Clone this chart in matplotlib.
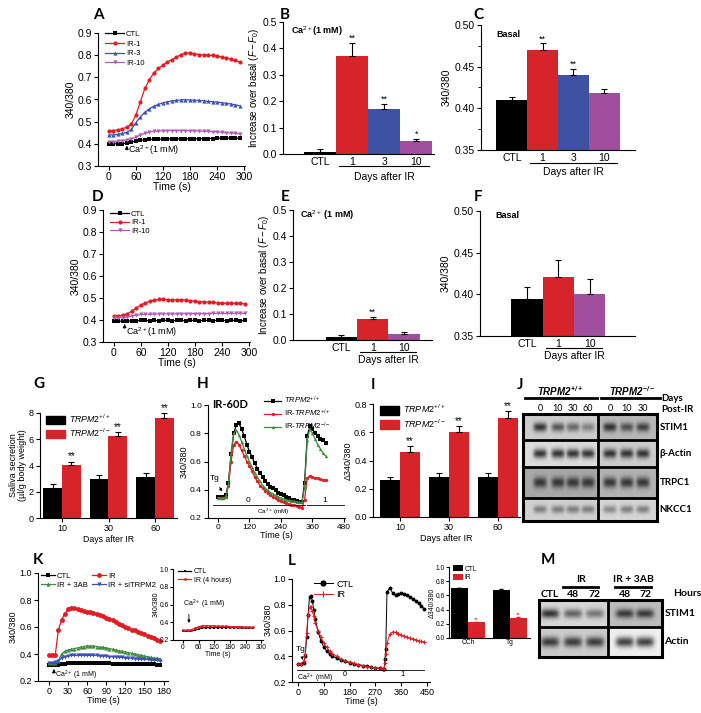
import numpy as np
import matplotlib
matplotlib.use("Agg")
import matplotlib.pyplot as plt
import matplotlib.transforms as mtransforms
from matplotlib.lines import Line2D
from matplotlib.patches import Patch
from matplotlib.ticker import MultipleLocator

plt.rcParams['font.family'] = ['Liberation Sans', 'DejaVu Sans']
plt.rcParams['mathtext.fontset'] = 'custom'
plt.rcParams['mathtext.rm'] = 'Liberation Sans'
plt.rcParams['mathtext.it'] = 'Liberation Sans:italic'
plt.rcParams['mathtext.bf'] = 'Liberation Sans:italic:bold'
plt.rcParams['axes.linewidth'] = 0.8

# ---------------- data ----------------
# A: Ca2+ entry, days after IR
a_time = list(range(0, 300, 10))
a_ctl = [0.400, 0.400, 0.400, 0.400, 0.405, 0.408, 0.412, 0.416, 0.418, 0.420,
         0.420, 0.421, 0.421, 0.422, 0.422, 0.422, 0.422, 0.423, 0.423, 0.423,
         0.423, 0.424, 0.424, 0.424, 0.425, 0.425, 0.425, 0.425, 0.425, 0.425]
a_ir1 = [0.460, 0.460, 0.463, 0.468, 0.475, 0.490, 0.530, 0.590, 0.650, 0.690,
         0.720, 0.740, 0.755, 0.770, 0.780, 0.792, 0.802, 0.810, 0.810, 0.806,
         0.803, 0.801, 0.800, 0.799, 0.796, 0.792, 0.788, 0.782, 0.776, 0.770]
a_ir3 = [0.440, 0.440, 0.443, 0.447, 0.452, 0.465, 0.495, 0.522, 0.543, 0.558,
         0.570, 0.578, 0.585, 0.590, 0.594, 0.596, 0.598, 0.599, 0.598, 0.597,
         0.596, 0.594, 0.592, 0.590, 0.588, 0.586, 0.583, 0.580, 0.576, 0.572]
a_ir10 = [0.410, 0.410, 0.412, 0.414, 0.418, 0.423, 0.430, 0.440, 0.448, 0.453,
          0.456, 0.458, 0.459, 0.460, 0.460, 0.460, 0.460, 0.460, 0.459, 0.459,
          0.458, 0.457, 0.456, 0.455, 0.454, 0.452, 0.450, 0.449, 0.447, 0.445]

# B, C: summary bars
b_labels = ['CTL', '1', '3', '10']
b_mean = [0.008, 0.370, 0.170, 0.050]
b_err = [0.010, 0.050, 0.020, 0.008]
b_sig = ['', '**', '**', '*']
c_mean = [0.410, 0.470, 0.440, 0.418]
c_err = [0.003, 0.008, 0.007, 0.005]
c_sig = ['', '**', '**', '']

# D: second set of traces
d_time = list(range(0, 300, 10))
d_ctl = [0.395, 0.395, 0.394, 0.395, 0.396, 0.397, 0.398, 0.398, 0.397, 0.398,
         0.397, 0.398, 0.398, 0.397, 0.398, 0.398, 0.397, 0.398, 0.398, 0.397,
         0.398, 0.398, 0.397, 0.398, 0.398, 0.397, 0.398, 0.398, 0.397, 0.398]
d_ir1 = [0.420, 0.420, 0.421, 0.428, 0.440, 0.455, 0.468, 0.478, 0.485, 0.490,
         0.494, 0.494, 0.492, 0.491, 0.493, 0.492, 0.490, 0.488, 0.485, 0.483,
         0.482, 0.481, 0.480, 0.478, 0.477, 0.476, 0.476, 0.475, 0.475, 0.474]
d_ir10 = [0.410, 0.410, 0.411, 0.414, 0.418, 0.422, 0.425, 0.426, 0.426, 0.427,
          0.428, 0.428, 0.428, 0.428, 0.428, 0.428, 0.429, 0.429, 0.429, 0.429,
          0.429, 0.429, 0.430, 0.430, 0.430, 0.430, 0.430, 0.430, 0.430, 0.430]

# E, F
e_labels = ['CTL', '1', '10']
e_mean = [0.010, 0.080, 0.022]
e_err = [0.008, 0.010, 0.008]
e_sig = ['', '**', '']
f_mean = [0.395, 0.421, 0.401]
f_err = [0.014, 0.020, 0.017]

# G: saliva secretion
g_days = ['10', '30', '60']
g_wt = [2.3, 3.0, 3.15]
g_wt_err = [0.30, 0.25, 0.30]
g_ko = [4.05, 6.25, 7.65]
g_ko_err = [0.25, 0.30, 0.35]

# H: Tg / Ca2+ add-back, IR-60D
h_time = list(range(0, 420, 10))
h_wt = [0.35, 0.35, 0.35, 0.36, 0.45, 0.65, 0.80, 0.86, 0.87, 0.83,
        0.78, 0.72, 0.67, 0.63, 0.59, 0.55, 0.52, 0.49, 0.46, 0.44,
        0.42, 0.41, 0.395, 0.38, 0.37, 0.36, 0.35, 0.34, 0.33, 0.325,
        0.32, 0.315, 0.31, 0.45, 0.78, 0.85, 0.83, 0.80, 0.78, 0.76,
        0.75, 0.73]
h_ir_wt = [0.34, 0.34, 0.34, 0.35, 0.43, 0.60, 0.72, 0.74, 0.72, 0.68,
           0.64, 0.60, 0.57, 0.53, 0.49, 0.46, 0.43, 0.41, 0.39, 0.375,
           0.36, 0.35, 0.34, 0.33, 0.32, 0.31, 0.305, 0.30, 0.295, 0.29,
           0.285, 0.28, 0.27, 0.33, 0.48, 0.50, 0.49, 0.48, 0.48, 0.475,
           0.47, 0.47]
h_ir_ko = [0.34, 0.34, 0.34, 0.35, 0.44, 0.66, 0.80, 0.82, 0.79, 0.74,
           0.69, 0.64, 0.60, 0.56, 0.52, 0.49, 0.46, 0.43, 0.41, 0.395,
           0.38, 0.37, 0.36, 0.35, 0.34, 0.335, 0.33, 0.325, 0.32, 0.32,
           0.315, 0.31, 0.31, 0.42, 0.75, 0.83, 0.80, 0.76, 0.72, 0.69,
           0.66, 0.64]

# I: delta 340/380
i_wt = [0.265, 0.280, 0.280]
i_wt_err = [0.020, 0.035, 0.030]
i_ko = [0.460, 0.600, 0.700]
i_ko_err = [0.040, 0.045, 0.050]

# J: western blot band strengths (TRPM2+/+ 0,10,30,60 | TRPM2-/- 0,10,30)
j_days_wt = ['0', '10', '30', '60']
j_days_ko = ['0', '10', '30']
j_rows = ['STIM1', 'β-Actin', 'TRPC1', 'NKCC1']
j_bands = [[0.85, 0.65, 0.55, 0.40, 0.85, 0.65, 0.75],
           [0.85, 0.85, 0.85, 0.85, 0.85, 0.85, 0.85],
           [0.80, 0.80, 0.80, 0.80, 0.80, 0.80, 0.80],
           [0.45, 0.45, 0.45, 0.45, 0.40, 0.45, 0.45]]
j_bg_left = [0.80, 0.86, 0.66, 0.82]
j_bg_right = [0.72, 0.80, 0.70, 0.84]

# K: Ca2+ entry with 3AB / siTRPM2
k_time = list(range(0, 180, 5))
k_ctl = [0.315, 0.315, 0.318, 0.322, 0.326, 0.328, 0.33, 0.33, 0.33, 0.33,
         0.33, 0.33, 0.33, 0.33, 0.33, 0.33, 0.33, 0.33, 0.33, 0.33,
         0.328, 0.328, 0.328, 0.328, 0.326, 0.326, 0.326, 0.325, 0.325, 0.325,
         0.324, 0.324, 0.323, 0.323, 0.322, 0.322]
k_ir = [0.39, 0.39, 0.39, 0.58, 0.65, 0.70, 0.73, 0.74, 0.74, 0.735,
        0.725, 0.715, 0.71, 0.71, 0.705, 0.70, 0.69, 0.68, 0.67, 0.66,
        0.65, 0.64, 0.625, 0.615, 0.60, 0.59, 0.58, 0.575, 0.565, 0.555,
        0.545, 0.535, 0.525, 0.515, 0.505, 0.50]
k_3ab = [0.335, 0.335, 0.335, 0.35, 0.40, 0.42, 0.43, 0.435, 0.44, 0.445,
         0.45, 0.455, 0.46, 0.46, 0.46, 0.455, 0.45, 0.45, 0.445, 0.44,
         0.435, 0.43, 0.425, 0.42, 0.415, 0.41, 0.405, 0.40, 0.395, 0.39,
         0.385, 0.38, 0.375, 0.37, 0.37, 0.365]
k_si = [0.335, 0.335, 0.34, 0.35, 0.37, 0.38, 0.385, 0.39, 0.39, 0.39,
        0.39, 0.39, 0.39, 0.39, 0.39, 0.39, 0.385, 0.385, 0.385, 0.38,
        0.38, 0.38, 0.375, 0.375, 0.37, 0.37, 0.37, 0.365, 0.365, 0.36,
        0.36, 0.36, 0.355, 0.355, 0.355, 0.35]
# K inset: 4 hours after IR
ki_time = list(range(0, 285, 15))
ki_ctl = [0.30, 0.30, 0.30, 0.31, 0.325, 0.335, 0.34, 0.34, 0.34, 0.34,
          0.34, 0.34, 0.34, 0.34, 0.34, 0.335, 0.335, 0.335, 0.335]
ki_ir = [0.31, 0.31, 0.315, 0.33, 0.35, 0.36, 0.36, 0.36, 0.36, 0.355,
         0.355, 0.355, 0.35, 0.35, 0.35, 0.35, 0.345, 0.345, 0.345]

# L: Tg / Ca2+ add-back, CTL vs IR
l_time = [0, 10, 20, 25, 30, 35, 40, 45, 50, 55,
          60, 70, 80, 90, 100, 110, 120, 135, 150, 165,
          180, 195, 210, 225, 240, 255, 270, 285, 295, 300,
          303, 306, 310, 320, 330, 340, 350, 360, 370, 380,
          390, 400, 410, 420, 430, 440]
l_ctl = [0.34, 0.34, 0.35, 0.40, 0.55, 0.72, 0.86, 0.87, 0.83, 0.76,
         0.69, 0.59, 0.52, 0.47, 0.44, 0.42, 0.40, 0.385, 0.37, 0.36,
         0.35, 0.34, 0.335, 0.328, 0.322, 0.316, 0.31, 0.306, 0.303, 0.30,
         0.38, 0.46, 0.90, 0.93, 0.89, 0.875, 0.885, 0.89, 0.885, 0.875,
         0.86, 0.845, 0.83, 0.81, 0.79, 0.77]
l_ir = [0.34, 0.34, 0.36, 0.42, 0.58, 0.72, 0.78, 0.78, 0.75, 0.71,
        0.66, 0.60, 0.55, 0.50, 0.47, 0.44, 0.42, 0.40, 0.38, 0.365,
        0.355, 0.345, 0.335, 0.328, 0.32, 0.315, 0.31, 0.305, 0.30, 0.30,
        0.35, 0.42, 0.50, 0.57, 0.59, 0.585, 0.575, 0.565, 0.555, 0.55,
        0.54, 0.535, 0.53, 0.52, 0.515, 0.51]
# L inset bars
lb_labels = ['CCh', 'Tg']
lb_ctl = [0.70, 0.68]
lb_ir = [0.22, 0.28]
lb_err = [0.010, 0.012]

# M: western blot (CTL, IR 48, 72 | IR+3AB 48, 72)
m_lanes = ['CTL', '48', '72', '48', '72']
m_rows = ['STIM1', 'Actin']
m_bands = [[0.85, 0.60, 0.50, 0.80, 0.80],
           [0.80, 0.80, 0.80, 0.80, 0.80]]
m_bg_left = [0.84, 0.80]
m_bg_right = [0.74, 0.94]

# ---------------- style ----------------
RED = '#d7232a'
BLUE = '#3f51a3'
PURPLE = '#a04f9f'
RED_L = '#e31b23'
BLUE_L = '#3b4fb8'
PURPLE_L = '#b35cb6'
GREEN_L = '#3d8c3d'

FIG_W, FIG_H = 701, 713
BOLD = ['Lato', 'DejaVu Sans']


def add_ax(fig, l, t, r, b):
    return fig.add_axes([l / FIG_W, 1 - b / FIG_H, (r - l) / FIG_W, (b - t) / FIG_H])


def ftext(fig, x, y, s, **kw):
    return fig.text(x / FIG_W, 1 - y / FIG_H, s, **kw)


def style(ax, fs):
    for side in ('top', 'right'):
        ax.spines[side].set_visible(False)
    ax.tick_params(labelsize=fs, length=3, width=0.8, pad=1.5)


def trace(ax, t, y, color, marker, ms=3, label=None):
    ax.plot(t, y, color=color, marker=marker, ms=ms, lw=0.9, mew=0, label=label)


def ca_arrow(ax, x, y0, y1, tx, ty, fs, text='Ca$^{2+}$(1 mM)'):
    ax.annotate('', xy=(x, y1), xytext=(x, y0),
                arrowprops=dict(arrowstyle='-|>', color='black', lw=0.7, mutation_scale=5))
    ax.text(tx, ty, text, fontsize=fs, va='center', ha='left')


def days_bracket(ax, x0, x1, fs, dy_line, dy_text):
    shift = mtransforms.ScaledTranslation(0, -dy_line / 100, ax.figure.dpi_scale_trans)
    ax.plot([x0, x1], [0, 0], color='black', lw=0.8,
            transform=ax.get_xaxis_transform() + shift, clip_on=False)
    ax.annotate('Days after IR', xy=((x0 + x1) / 2, 0), xycoords=ax.get_xaxis_transform(),
                xytext=(0, -dy_text), textcoords='offset pixels', ha='center', va='center',
                fontsize=fs)


def day_bars(ax, labels, means, errs, colors, sig, fs, dy_line, dy_text):
    x = np.arange(len(means))
    ax.bar(x, means, width=1.0, color=colors, edgecolor='none')
    ax.errorbar(x, means, yerr=[np.zeros(len(errs)), errs], fmt='none', ecolor='black',
                elinewidth=0.8, capsize=2, capthick=0.8)
    for xi, m, e, s in zip(x, means, errs, sig):
        if s:
            ax.text(xi, m + e, s, ha='center', va='bottom', fontsize=fs - 1)
    ax.set_xticks(x, labels)
    ax.tick_params(axis='x', length=0, pad=2)
    days_bracket(ax, 0.6, len(means) - 1 + 0.4, fs, dy_line, dy_text)


def group_bars(ax, days, wt, wt_err, ko, ko_err, fs, sig_fs):
    x = np.arange(len(days))
    w = 0.4
    ax.bar(x - w / 2, wt, width=w, color='black')
    ax.bar(x + w / 2, ko, width=w, color=RED)
    z = np.zeros(len(x))
    ax.errorbar(x - w / 2, wt, yerr=[z, wt_err], fmt='none', ecolor='black',
                elinewidth=0.8, capsize=2, capthick=0.8)
    ax.errorbar(x + w / 2, ko, yerr=[z, ko_err], fmt='none', ecolor='black',
                elinewidth=0.8, capsize=2, capthick=0.8)
    for xi, m, e in zip(x, ko, ko_err):
        ax.text(xi + w / 2, m + e, '**', ha='center', va='bottom', fontsize=sig_fs)
    ax.set_xticks(x, days)
    ax.set_xlabel('Days after IR', fontsize=fs, labelpad=1)
    handles = [Patch(color='black', label='$TRPM2^{+/+}$'),
               Patch(color=RED, label='$TRPM2^{-/-}$')]
    ax.legend(handles=handles, loc='upper left', bbox_to_anchor=(0.02, 1.04), frameon=False,
              fontsize=fs, handlelength=2.2, handleheight=1.1, handletextpad=0.4,
              labelspacing=0.2, borderaxespad=0)


def draw_blot(ax, bands, bg_left, bg_right, row_h, lanes, split, band_w, names, fs):
    xs = np.linspace(0, 1, 420)
    ys = np.linspace(0, 1, 260)
    X, Y = np.meshgrid(xs, ys)
    img = np.ones_like(X)
    edges = np.concatenate([[0], np.cumsum(row_h)]) / np.sum(row_h)
    for r, row in enumerate(bands):
        inside = (Y >= edges[r]) & (Y <= edges[r + 1])
        bg = np.where(X < split, bg_left[r], bg_right[r])
        yc = (edges[r] + edges[r + 1]) / 2
        hy = (edges[r + 1] - edges[r]) * 0.17
        dark = np.zeros_like(X)
        for xc, v in zip(lanes, row):
            dark = np.maximum(dark, v * np.exp(-((X - xc) / band_w) ** 4 - ((Y - yc) / hy) ** 2))
        img = np.where(inside, bg - dark * (bg - 0.1), img)
        ax.text(1.02, 1 - yc, names[r], transform=ax.transAxes, ha='left', va='center',
                fontsize=fs, fontweight='bold', family=BOLD)
    ax.imshow(img, cmap='gray', vmin=0, vmax=1, extent=(0, 1, 1, 0), aspect='auto',
              interpolation='bilinear')
    for e in edges[1:-1]:
        ax.axhline(e, color='black', lw=2)
    ax.axvline(split, color='black', lw=2)
    ax.set_xlim(0, 1)
    ax.set_ylim(1, 0)
    ax.set_xticks([])
    ax.set_yticks([])
    for s in ax.spines.values():
        s.set_linewidth(2.2)


def header_line(fig, x0, x1, y, lw=2):
    fig.add_artist(Line2D([x0 / FIG_W, x1 / FIG_W], [1 - y / FIG_H, 1 - y / FIG_H],
                          color='black', lw=lw))


# ---------------- panels ----------------
def panel_a(fig):
    ax = add_ax(fig, 98, 33, 245, 166)
    style(ax, 7.5)
    trace(ax, a_time, a_ctl, 'black', 's', label='CTL')
    trace(ax, a_time, a_ir1, RED_L, 'o', label='IR-1')
    trace(ax, a_time, a_ir3, BLUE_L, '^', label='IR-3')
    trace(ax, a_time, a_ir10, PURPLE_L, 'v', label='IR-10')
    ax.set_xlim(-24, 302)
    ax.set_ylim(0.3, 0.9)
    ax.set_xticks([0, 60, 120, 180, 240, 300])
    ax.set_yticks([0.3, 0.4, 0.5, 0.6, 0.7, 0.8, 0.9])
    ax.set_xlabel('Time (s)', fontsize=7.5, labelpad=0)
    ax.set_ylabel('340/380', fontsize=7.5, labelpad=1)
    ax.legend(loc='upper left', bbox_to_anchor=(0.03, 1.04), fontsize=5.5, frameon=False,
              handlelength=2.4, handletextpad=0.3, labelspacing=0.3, borderaxespad=0)
    ca_arrow(ax, 40, 0.36, 0.405, 43, 0.37, 6.5)


def panel_b(fig):
    ax = add_ax(fig, 283, 22, 434, 154)
    style(ax, 7.5)
    day_bars(ax, b_labels, b_mean, b_err, ['black', RED, BLUE, PURPLE], b_sig, 7.5, 12, 23)
    ax.set_xlim(-1.15, 3.55)
    ax.set_ylim(0, 0.5)
    ax.set_yticks([0, 0.1, 0.2, 0.3, 0.4, 0.5])
    ax.set_ylabel('Increase over basal ($F - F_0$)', fontsize=7, labelpad=1)
    ax.text(0.05, 0.93, 'Ca$^{2+}$(1 mM)', transform=ax.transAxes, fontsize=6.5,
            fontweight='bold', va='center')


def panel_c(fig):
    ax = add_ax(fig, 481, 25, 635, 150)
    style(ax, 7.5)
    day_bars(ax, b_labels, c_mean, c_err, ['black', RED, BLUE, PURPLE], c_sig, 7.5, 13, 22)
    ax.set_xlim(-1.0, 4.0)
    ax.set_ylim(0.35, 0.50)
    ax.set_yticks([0.35, 0.40, 0.45, 0.50])
    ax.yaxis.set_minor_locator(MultipleLocator(0.025))
    ax.tick_params(axis='y', which='minor', length=2)
    ax.set_ylabel('340/380', fontsize=7.5, labelpad=2)
    ax.text(0.1, 0.92, 'Basal', transform=ax.transAxes, fontsize=6.5,
            fontweight='bold', va='center')


def panel_d(fig):
    ax = add_ax(fig, 103, 210, 250, 342)
    style(ax, 7.5)
    trace(ax, d_time, d_ctl, 'black', 's', label='CTL')
    trace(ax, d_time, d_ir1, RED_L, 'o', label='IR-1')
    trace(ax, d_time, d_ir10, PURPLE_L, 'v', label='IR-10')
    ax.set_xlim(-24, 302)
    ax.set_ylim(0.3, 0.9)
    ax.set_xticks([0, 60, 120, 180, 240, 300])
    ax.set_yticks([0.3, 0.4, 0.5, 0.6, 0.7, 0.8, 0.9])
    ax.set_xlabel('Time (s)', fontsize=7.5, labelpad=0)
    ax.set_ylabel('340/380', fontsize=7.5, labelpad=1)
    ax.legend(loc='upper left', bbox_to_anchor=(0.03, 1.02), fontsize=5.5, frameon=False,
              handlelength=2.4, handletextpad=0.3, labelspacing=0.15, borderaxespad=0)
    ca_arrow(ax, 24, 0.35, 0.395, 27, 0.345, 6.5)


def panel_e(fig):
    ax = add_ax(fig, 293, 210, 432, 340)
    style(ax, 7.5)
    day_bars(ax, e_labels, e_mean, e_err, ['black', RED, PURPLE], e_sig, 7.5, 12, 20)
    ax.set_xlim(-1.55, 2.9)
    ax.set_ylim(0, 0.5)
    ax.set_yticks([0, 0.1, 0.2, 0.3, 0.4, 0.5])
    ax.set_ylabel('Increase over basal ($F - F_0$)', fontsize=7, labelpad=1)
    ax.text(0.05, 0.96, 'Ca$^{2+}$ (1 mM)', transform=ax.transAxes, fontsize=6.5,
            fontweight='bold', va='center')


def panel_f(fig):
    ax = add_ax(fig, 480, 211, 635, 336)
    style(ax, 7.5)
    day_bars(ax, e_labels, f_mean, f_err, ['black', RED, PURPLE], ['', '', ''], 7.5, 12, 20)
    ax.set_xlim(-1.5, 3.45)
    ax.set_ylim(0.35, 0.50)
    ax.set_yticks([0.35, 0.40, 0.45, 0.50])
    ax.set_ylabel('340/380', fontsize=7.5, labelpad=2)
    ax.text(0.1, 0.96, 'Basal', transform=ax.transAxes, fontsize=6.5,
            fontweight='bold', va='center')


def panel_g(fig):
    ax = add_ax(fig, 40, 413, 177, 518)
    style(ax, 6.5)
    group_bars(ax, g_days, g_wt, g_wt_err, g_ko, g_ko_err, 6.3, 7)
    ax.set_xlim(-0.47, 2.47)
    ax.set_ylim(0, 8)
    ax.set_yticks([0, 2, 4, 6, 8])
    ax.set_ylabel('Saliva secretion\n(µl/g body weight)', fontsize=6.5, labelpad=1,
                  linespacing=1.0)


def panel_h(fig):
    ax = add_ax(fig, 208, 405, 345, 518)
    style(ax, 6)
    trace(ax, h_time, h_wt, 'black', 's', ms=2.4, label='$TRPM2^{+/+}$')
    trace(ax, h_time, h_ir_wt, RED_L, 'o', ms=2.4, label='IR-$TRPM2^{+/+}$')
    trace(ax, h_time, h_ir_ko, GREEN_L, '^', ms=2.4, label='IR-$TRPM2^{-/-}$')
    ax.set_xlim(-38, 484)
    ax.set_ylim(0.2, 1.0)
    ax.set_xticks([0, 120, 240, 360, 480])
    ax.set_yticks([0.2, 0.4, 0.6, 0.8, 1.0])
    ax.set_xlabel('Time (s)', fontsize=6.5, labelpad=0)
    ax.set_ylabel('340/380', fontsize=6.5, labelpad=1)
    ax.legend(loc='upper left', bbox_to_anchor=(0.39, 1.115), fontsize=5.5, frameon=False,
              handlelength=2.2, handletextpad=0.3, labelspacing=0.2, borderaxespad=0)
    ax.text(0.03, 1.0, 'IR-60D', transform=ax.transAxes, fontsize=8, fontweight='bold',
            va='center', family=BOLD)
    # Ca2+ bar
    ax.plot([-20, 330], [0.29, 0.29], color='black', lw=0.6)
    ax.plot([340, 480], [0.29, 0.29], color='black', lw=0.6)
    ax.text(114, 0.30, '0', fontsize=6, ha='center', va='bottom')
    ax.text(408, 0.30, '1', fontsize=6, ha='center', va='bottom')
    ax.text(210, 0.283, 'Ca$^{2+}$ (mM)', fontsize=4.5, ha='center', va='top')
    ax.annotate('Tg', xy=(20, 0.37), xytext=(-30, 0.48), fontsize=6, ha='left', va='center',
                arrowprops=dict(arrowstyle='-|>', color='black', lw=0.6, mutation_scale=4))


def panel_i(fig):
    ax = add_ax(fig, 373, 404, 520, 517)
    style(ax, 6.5)
    group_bars(ax, g_days, i_wt, i_wt_err, i_ko, i_ko_err, 6.5, 7)
    ax.set_xlim(-0.55, 2.45)
    ax.set_ylim(0, 0.8)
    ax.set_yticks([0, 0.2, 0.4, 0.6, 0.8])
    ax.set_ylabel('Δ340/380', fontsize=6.5, labelpad=1)


def panel_j(fig):
    ax = add_ax(fig, 523, 414, 657, 521)
    lanes = [0.127, 0.261, 0.373, 0.485, 0.649, 0.776, 0.896]
    draw_blot(ax, j_bands, j_bg_left, j_bg_right, [26, 27, 31, 23], lanes, 0.56, 0.05,
              j_rows, 7)
    for xc, lab in zip(lanes, j_days_wt + j_days_ko):
        ax.text(xc, 1.055, lab, transform=ax.get_xaxis_transform(), ha='center',
                va='center', fontsize=6.5, family=BOLD)
    ftext(fig, 560, 391, r'$\mathbf{TRPM2^{+/+}}$', fontsize=7, ha='center', va='center')
    ftext(fig, 632, 391, r'$\mathbf{TRPM2^{-/-}}$', fontsize=7, ha='center', va='center')
    header_line(fig, 525, 597, 398)
    header_line(fig, 601, 660, 398)
    ftext(fig, 661, 399, 'Days', fontsize=7, fontweight='bold', family=BOLD, va='center')
    ftext(fig, 661, 409, 'Post-IR', fontsize=7, fontweight='bold', family=BOLD, va='center')


def panel_k(fig):
    ax = add_ax(fig, 38, 573, 168, 681)
    style(ax, 6.5)
    trace(ax, k_time, k_ctl, 'black', 's', label='CTL')
    trace(ax, k_time, k_3ab, GREEN_L, '^', label='IR + 3AB')
    trace(ax, k_time, k_si, BLUE_L, 'v', label='IR + siTRPM2')
    trace(ax, k_time, k_ir, RED_L, 'o', ms=3.5, label='IR')
    handles, labels = ax.get_legend_handles_labels()
    order = [0, 1, 3, 2]
    ax.legend([handles[i] for i in order], [labels[i] for i in order], ncol=2,
              loc='upper left', bbox_to_anchor=(0.0, 1.03), fontsize=5.5, frameon=False,
              handlelength=1.8, handletextpad=0.3, labelspacing=0.2, columnspacing=0.5,
              borderaxespad=0)
    ax.set_xlim(-17, 187)
    ax.set_ylim(0.2, 1.0)
    ax.set_xticks([0, 30, 60, 90, 120, 150, 180])
    ax.set_yticks([0.2, 0.4, 0.6, 0.8, 1.0])
    ax.set_xlabel('Time (s)', fontsize=6.5, labelpad=0)
    ax.set_ylabel('340/380', fontsize=6.5, labelpad=1)
    ca_arrow(ax, 8, 0.24, 0.31, 10, 0.245, 5, text='Ca$^{2+}$ (1 mM)')

    ins = add_ax(fig, 173, 569, 263, 640)
    style(ins, 4.8)
    ins.tick_params(length=2, pad=1)
    trace(ins, ki_time, ki_ctl, 'black', 's', ms=2, label='CTL')
    trace(ins, ki_time, ki_ir, RED_L, 'o', ms=2, label='IR (4 hours)')
    ins.set_xlim(-38, 307)
    ins.set_ylim(0.2, 1.0)
    ins.set_xticks([0, 60, 120, 180, 240, 300])
    ins.set_yticks([0.2, 0.4, 0.6, 0.8, 1.0])
    ins.set_xlabel('Time (s)', fontsize=5, labelpad=0)
    ins.set_ylabel('340/380', fontsize=5, labelpad=0)
    ins.legend(loc='upper left', bbox_to_anchor=(0.02, 1.05), fontsize=5, frameon=False,
               handlelength=2.0, handletextpad=0.3, labelspacing=0.2, borderaxespad=0)
    ins.annotate('', xy=(23, 0.36), xytext=(23, 0.52),
                 arrowprops=dict(arrowstyle='-|>', color='black', lw=0.6, mutation_scale=4))
    ins.text(0, 0.6, 'Ca$^{2+}$ (1 mM)', fontsize=5, va='center')


def panel_l(fig):
    ax = add_ax(fig, 292, 579, 430, 682)
    style(ax, 6.5)
    ax.plot(l_time, l_ctl, color='black', marker='o', ms=2.8, lw=0.7, mew=0, label='CTL')
    ax.plot(l_time, l_ir, color=RED_L, marker='+', ms=3, lw=0.7, mew=0.8, label='IR')
    ax.set_xlim(-21, 460)
    ax.set_ylim(0.2, 1.0)
    ax.set_xticks([0, 90, 180, 270, 360, 450])
    ax.set_yticks([0.2, 0.4, 0.6, 0.8, 1.0])
    ax.set_xlabel('Time (s)', fontsize=6.5, labelpad=0)
    ax.set_ylabel('340/380', fontsize=6.5, labelpad=0, y=0.6)
    ax.legend(loc='upper left', bbox_to_anchor=(0.13, 1.03), fontsize=6.5, frameon=False,
              handlelength=2.2, handletextpad=0.3, labelspacing=0.2, borderaxespad=0,
              markerscale=1.6)
    ax.plot([-5, 440], [0.29, 0.29], color='black', lw=0.6)
    ax.text(-5, 0.282, 'Ca$^{2+}$ (mM)', fontsize=5, va='top')
    ax.text(164, 0.282, '0', fontsize=5.5, ha='center', va='top')
    ax.text(363, 0.282, '1', fontsize=5.5, ha='center', va='top')
    ax.annotate('Tg', xy=(18, 0.35), xytext=(-8, 0.45), fontsize=6, ha='left', va='center',
                arrowprops=dict(arrowstyle='-|>', color='black', lw=0.6, mutation_scale=4))

    ins = add_ax(fig, 449, 567, 530, 638)
    style(ins, 4.8)
    ins.tick_params(length=2, pad=1)
    x = np.arange(len(lb_labels))
    w = 0.4
    ins.bar(x - w / 2, lb_ctl, width=w, color='black', label='CTL')
    ins.bar(x + w / 2, lb_ir, width=w, color=RED, label='IR')
    z = np.zeros(len(x))
    ins.errorbar(x - w / 2, lb_ctl, yerr=[z, lb_err], fmt='none', ecolor='black',
                 elinewidth=0.6, capsize=1.2)
    ins.errorbar(x + w / 2, lb_ir, yerr=[z, lb_err], fmt='none', ecolor=RED,
                 elinewidth=0.6, capsize=1.2)
    for xi, m, e in zip(x, lb_ir, lb_err):
        ins.text(xi + w / 2, m + e, '**', ha='center', va='bottom', fontsize=4.5, color=RED)
    ins.set_xticks(x, lb_labels)
    ins.tick_params(axis='x', length=0)
    ins.set_xlim(-0.45, 1.48)
    ins.set_ylim(0, 1.0)
    ins.set_yticks([0, 0.2, 0.4, 0.6, 0.8, 1.0])
    ins.set_ylabel('Δ340/380', fontsize=5, labelpad=0)
    ins.legend(loc='upper left', bbox_to_anchor=(0.02, 1.06), fontsize=4.8, frameon=False,
               handlelength=1.4, handleheight=1.0, handletextpad=0.3, labelspacing=0.15,
               borderaxespad=0)


def panel_m(fig):
    ax = add_ax(fig, 539, 600, 662, 657)
    lanes = [0.089, 0.276, 0.455, 0.699, 0.862]
    draw_blot(ax, m_bands, m_bg_left, m_bg_right, [27, 30], lanes, 0.561, 0.075, m_rows, 7.5)
    for xc, lab in zip(lanes, m_lanes):
        ax.text(xc, 1.1, lab, transform=ax.get_xaxis_transform(), ha='center', va='center',
                fontsize=7.5, fontweight='bold', family=BOLD)
    ftext(fig, 673, 594, 'Hours', fontsize=7.5, fontweight='bold', family=BOLD, va='center')
    ftext(fig, 581, 580, 'IR', fontsize=7.5, fontweight='bold', family=BOLD,
          ha='center', va='center')
    ftext(fig, 633, 580, 'IR + 3AB', fontsize=7.5, fontweight='bold', family=BOLD,
          ha='center', va='center')
    header_line(fig, 563, 598, 587)
    header_line(fig, 615, 651, 587)


def panel_labels(fig):
    spots = {'A': (98, 15), 'B': (285, 15), 'C': (478, 15),
             'D': (98, 197), 'E': (285, 197), 'F': (478, 197),
             'G': (39, 384), 'H': (203, 384), 'I': (373, 385), 'J': (520, 385),
             'K': (38, 560), 'L': (292, 561), 'M': (548, 560)}
    for s, (x, y) in spots.items():
        ftext(fig, x, y, s, fontsize=11, fontweight='bold', family=BOLD,
              ha='center', va='center')


if __name__ == '__main__':
    fig = plt.figure(figsize=(FIG_W / 100, FIG_H / 100), dpi=100)
    panel_a(fig)
    panel_b(fig)
    panel_c(fig)
    panel_d(fig)
    panel_e(fig)
    panel_f(fig)
    panel_g(fig)
    panel_h(fig)
    panel_i(fig)
    panel_j(fig)
    panel_k(fig)
    panel_l(fig)
    panel_m(fig)
    panel_labels(fig)
    fig.savefig('out.png', dpi=100)
